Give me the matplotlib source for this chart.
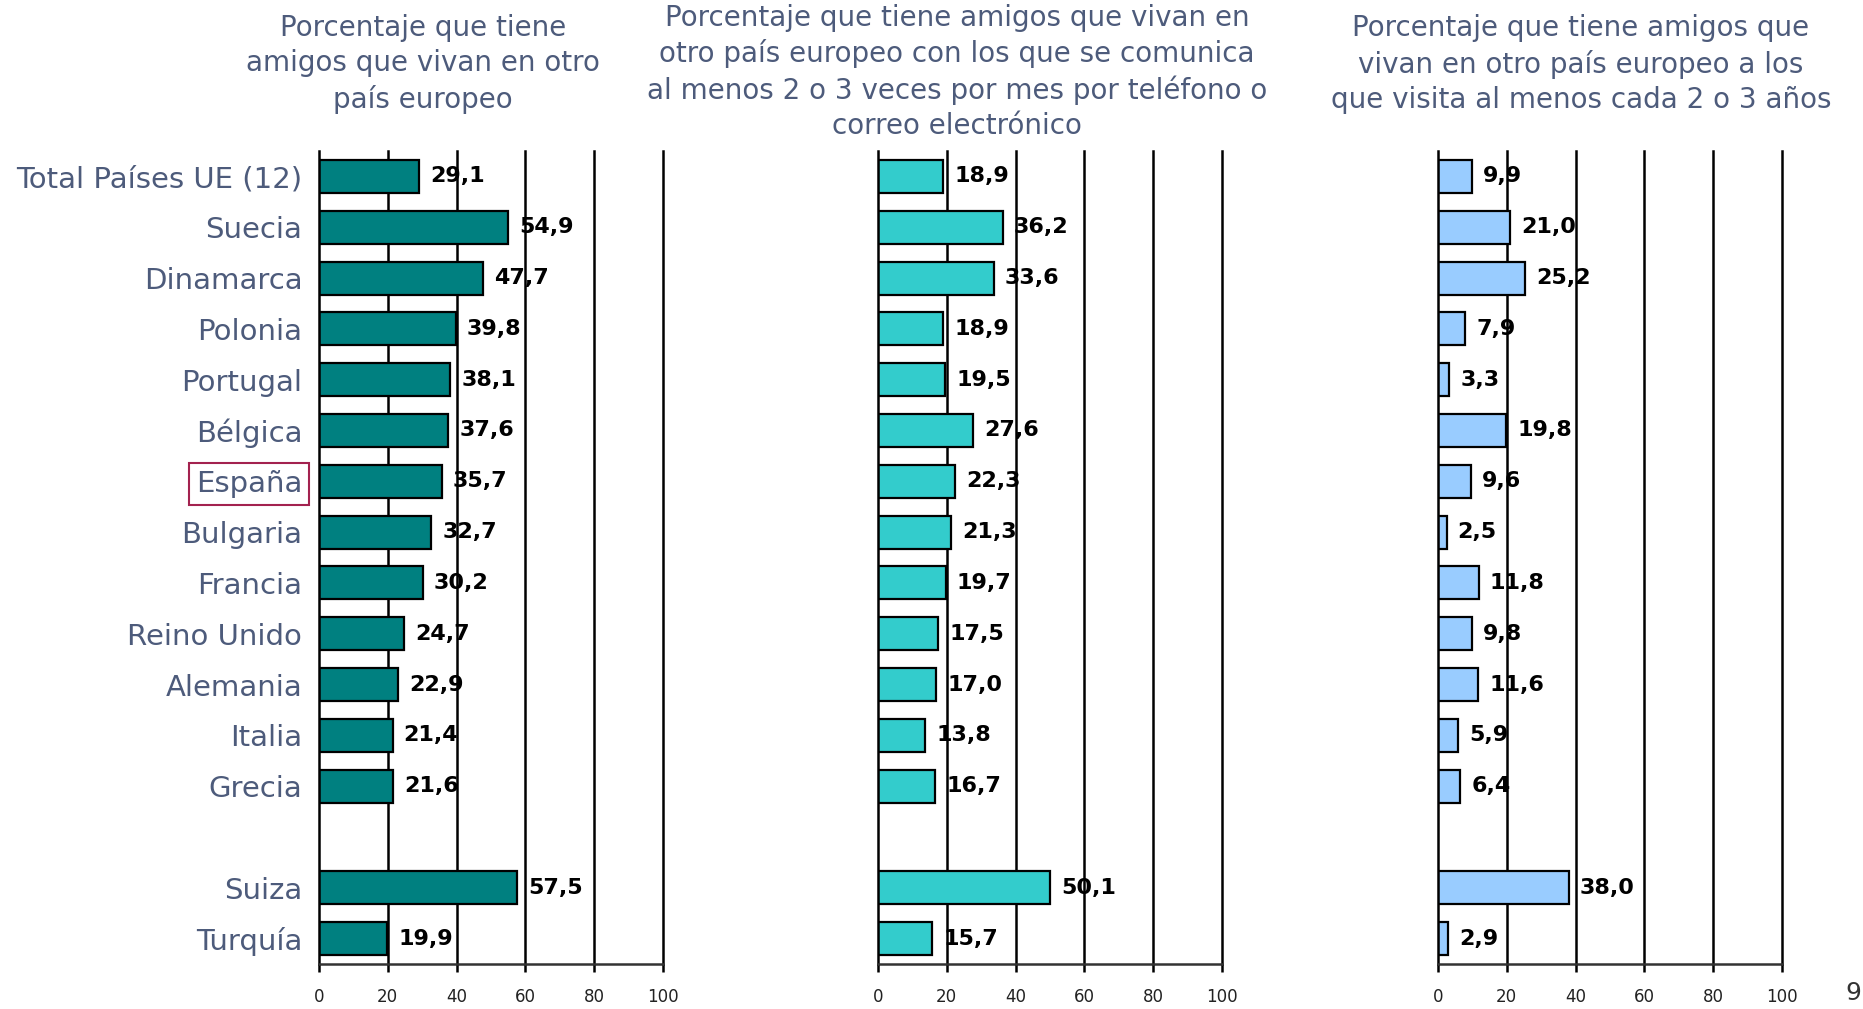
import matplotlib
matplotlib.use("Agg")
import matplotlib.pyplot as plt

# data
countries = ["Total Países UE (12)", "Suecia", "Dinamarca", "Polonia", "Portugal",
             "Bélgica", "España", "Bulgaria", "Francia", "Reino Unido", "Alemania",
             "Italia", "Grecia", "Suiza", "Turquía"]
slots = [0, 1, 2, 3, 4, 5, 6, 7, 8, 9, 10, 11, 12, 14, 15]

amigos = [29.1, 54.9, 47.7, 39.8, 38.1, 37.6, 35.7, 32.7, 30.2, 24.7, 22.9, 21.4, 21.6, 57.5, 19.9]
comunica = [18.9, 36.2, 33.6, 18.9, 19.5, 27.6, 22.3, 21.3, 19.7, 17.5, 17.0, 13.8, 16.7, 50.1, 15.7]
visita = [9.9, 21.0, 25.2, 7.9, 3.3, 19.8, 9.6, 2.5, 11.8, 9.8, 11.6, 5.9, 6.4, 38.0, 2.9]

titles = [
    "Porcentaje que tiene\namigos que vivan en otro\npaís europeo",
    "Porcentaje que tiene amigos que vivan en\notro país europeo con los que se comunica\n"
    "al menos 2 o 3 veces por mes por teléfono o\ncorreo electrónico",
    "Porcentaje que tiene amigos que\nvivan en otro país europeo a los\nque visita al menos cada 2 o 3 años",
]
xticks = [0, 20, 40, 60, 80, 100]

series = [amigos, comunica, visita]
colors = ["#008080", "#33CCCC", "#99CCFF"]
lefts = [319, 878, 1438]
title_x = [423, 957, 1581]
title_y = [64, 72, 64]

W, H = 1863, 1009
fig = plt.figure(figsize=(W / 100, H / 100), dpi=100)
plt.rcParams['font.family'] = ['DejaVu Sans']
label_col = "#4d5b7b"

top, bottom = 151, 964
for i, (vals, col) in enumerate(zip(series, colors)):
    ax = fig.add_axes([lefts[i] / W, 1 - bottom / H, 344 / W, (bottom - top) / H])
    for g in xticks[1:]:
        ax.axvline(g, color="black", lw=1.8, zorder=1, clip_on=False)
    ax.barh(slots, vals, height=0.65, color=col, edgecolor="black", lw=1.6, zorder=2)
    for y, v in zip(slots, vals):
        ax.annotate(f"{v:.1f}".replace(".", ","), (v, y), xytext=(8, 0),
                    textcoords="offset points", ha="left", va="center",
                    fontsize=16, fontweight="bold", color="black", zorder=3)
    ax.set_xlim(0, 100)
    ax.set_ylim(15.5, -0.5)
    ax.set_xticks(xticks)
    ax.tick_params(axis="x", length=6, width=1.8, direction="out", labelsize=12,
                   labelcolor="#222222", pad=11)
    for s in ["top", "right"]:
        ax.spines[s].set_visible(False)
    ax.spines["left"].set_linewidth(1.8)
    ax.spines["bottom"].set_linewidth(1.8)
    ax.spines["bottom"].set_color("#333333")
    if i == 0:
        ax.set_yticks(slots)
        ax.set_yticklabels(countries, fontsize=21, color=label_col)
        ax.tick_params(axis="y", length=0, pad=12)
        for lab in ax.get_yticklabels():
            if lab.get_text() == "España":
                lab.set_bbox(dict(facecolor="white", edgecolor="#a3224f", lw=1.5, pad=5))
    else:
        ax.set_yticks([])
    fig.text(title_x[i] / W, 1 - title_y[i] / H, titles[i], ha="center", va="center",
             fontsize=20, color=label_col, linespacing=1.32)

fig.text(1853 / W, 1 - 993 / H, "9", ha="center", va="center", fontsize=18, color="#333333")

fig.savefig("out.png", dpi=100)
